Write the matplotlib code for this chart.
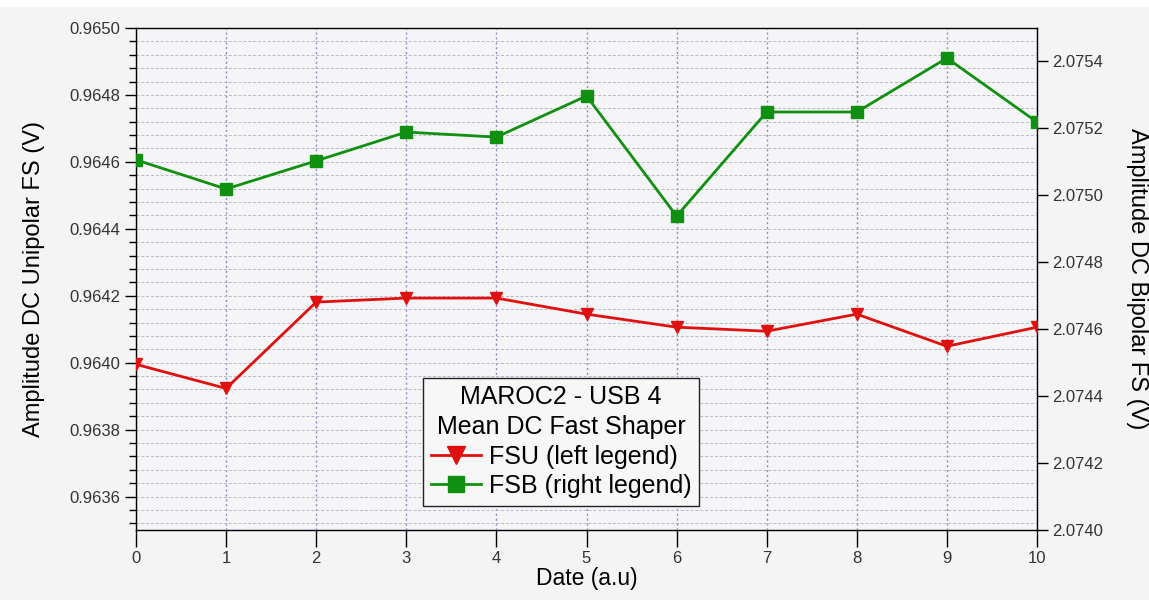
import matplotlib
matplotlib.use("Agg")
import matplotlib.pyplot as plt
from matplotlib.ticker import MultipleLocator, FormatStrFormatter
from matplotlib.lines import Line2D
from matplotlib.patches import Rectangle

# Measurement index (date, arbitrary units)
dates = [0, 1, 2, 3, 4, 5, 6, 7, 8, 9, 10]

# Mean DC amplitude, fast shaper unipolar (left axis)
fsu = [0.963995, 0.963923, 0.964181, 0.964193, 0.964193, 0.964145,
       0.964106, 0.964094, 0.964145, 0.964049, 0.964106]

# Mean DC amplitude, fast shaper bipolar (right axis)
fsb = [2.075106, 2.075019, 2.075103, 2.075189, 2.075174, 2.075297,
       2.074938, 2.075249, 2.075249, 2.075410, 2.075219]

left_ticks = [0.9636, 0.9638, 0.9640, 0.9642, 0.9644, 0.9646, 0.9648, 0.9650]
right_ticks = [2.0740, 2.0742, 2.0744, 2.0746, 2.0748, 2.0750, 2.0752, 2.0754]

plt.rcParams['font.family'] = ['Liberation Sans', 'DejaVu Sans']

fig = plt.figure(figsize=(11.49, 6.0), dpi=100)
fig.patch.set_facecolor('#f4f4f4')
# thin white strip along the top edge
fig.add_artist(Rectangle((0, 1 - 7 / 600), 1, 7 / 600, transform=fig.transFigure,
                         facecolor='white', edgecolor='none', zorder=0))

ax = fig.add_axes([136 / 1149, 1 - 530 / 600, (1037 - 136) / 1149, (530 - 28) / 600])
ax.set_facecolor('#f5f5f7')

ax.set_xlim(0, 10)
ax.set_ylim(0.9635, 0.9650)
ax.set_xticks(dates)
ax.yaxis.set_major_locator(MultipleLocator(0.0002))
ax.yaxis.set_minor_locator(MultipleLocator(0.00004))
ax.set_yticks(left_ticks)
ax.yaxis.set_major_formatter(FormatStrFormatter('%.4f'))

# grid: dashed grey horizontals at every minor step, dotted blue verticals
ax.grid(True, axis='y', which='both', color='#b8b8c8', linestyle=(0, (3, 2)), linewidth=0.7)
ax.grid(True, axis='x', which='major', color='#8a8acc', linestyle=(0, (1.5, 2)), linewidth=1.0)
ax.set_axisbelow(True)

for s in ax.spines.values():
    s.set_color('black')
    s.set_linewidth(1.0)

ax.tick_params(axis='y', which='major', direction='out', length=8, width=1.0,
               labelsize=12, colors='black', labelcolor='#333333', pad=3)
ax.tick_params(axis='y', which='minor', direction='out', length=5, width=1.0)
ax.tick_params(axis='x', which='major', direction='out', length=12, width=1.0,
               labelsize=12, labelcolor='#333333', pad=3)

ax.plot(dates, fsu, color='#e01010', linewidth=2.0, marker='v', markersize=8,
        markerfacecolor='#e01010', markeredgecolor='#e01010', zorder=3)

ax2 = ax.twinx()
ax2.set_ylim(2.0740, 2.0755)
ax2.set_yticks(right_ticks)
ax2.yaxis.set_major_formatter(FormatStrFormatter('%.4f'))
ax2.tick_params(axis='y', which='major', direction='out', length=8, width=1.0,
                labelsize=12, labelcolor='#333333', pad=3)
for s in ax2.spines.values():
    s.set_visible(False)

ax2.plot(dates, fsb, color='#109010', linewidth=2.0, marker='s', markersize=8,
         markerfacecolor='#109010', markeredgecolor='#109010', zorder=3)

ax.set_xlabel('Date (a.u)', fontsize=16.5, labelpad=1)
ax.set_ylabel('Amplitude DC Unipolar FS (V)', fontsize=17, labelpad=18)
ax2.set_ylabel('Amplitude DC Bipolar FS (V)', fontsize=17, rotation=270, labelpad=32)

handles = [
    Line2D([], [], color='#e01010', linewidth=2.0, marker='v', markersize=13),
    Line2D([], [], color='#109010', linewidth=2.0, marker='s', markersize=12),
]
leg = ax2.legend(handles, ['FSU (left legend)', 'FSB (right legend)'],
                 title='MAROC2 - USB 4\nMean DC Fast Shaper',
                 loc='upper left', bbox_to_anchor=(423 / 1149, 1 - 378 / 600),
                 bbox_transform=fig.transFigure, fontsize=18, title_fontsize=18,
                 frameon=True, fancybox=False, handlelength=2.0, handletextpad=0.35,
                 borderpad=0.3, labelspacing=0.22, borderaxespad=0)
leg.get_title().set_multialignment('center')
leg.get_title().set_linespacing(1.3)
leg.get_frame().set_edgecolor('#222222')
leg.get_frame().set_facecolor('#f7f7f7')
leg.get_frame().set_linewidth(1.0)
leg.get_frame().set_alpha(1.0)

fig.savefig('out.png', dpi=100, facecolor=fig.get_facecolor())
